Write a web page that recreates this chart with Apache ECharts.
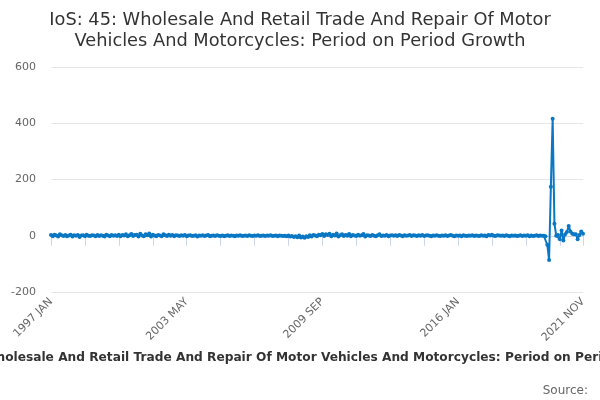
<!DOCTYPE html>
<html>
<head>
<meta charset="utf-8">
<script src="https://cdn.jsdelivr.net/npm/echarts@6/dist/echarts.min.js"></script>
<style>
html,body{margin:0;padding:0;background:#fff;}
#chart{width:600px;height:400px;}
</style>
</head>
<body>
<div id="chart"></div>
<script>
var FONT = '"DejaVu Sans", Verdana, sans-serif';
var titleText = "IoS: 45: Wholesale And Retail Trade And Repair Of Motor Vehicles And Motorcycles: Period on Period Growth";
var monthNames = ["JAN","FEB","MAR","APR","MAY","JUN","JUL","AUG","SEP","OCT","NOV","DEC"];
var startYear = 1997, endYear = 2021, endMonth = 11;
var yTicks = [-200, 0, 200, 400, 600];

var v1997 = [3,-2,4,1,-3,5,2,-1,3,-2,1,4];
var v1998 = [-3,2,0,3,-4,1,2,-2,4,0,-1,2];
var v1999 = [1,-2,3,-1,2,0,-3,4,1,-2,3,0];
var v2000 = [2,-1,4,-2,3,1,5,-2,2,6,-1,3];
var v2001 = [4,-3,7,1,-2,5,2,8,-3,4,1,-2];
var v2002 = [3,1,-2,5,2,-1,4,0,3,-2,2,1];
var v2003 = [-1,2,0,3,-2,1,2,-1,0,2,-3,1];
var v2004 = [0,2,-1,1,3,-2,0,1,-1,2,0,-1];
var v2005 = [1,-2,0,2,-1,1,0,-2,1,0,2,-1];
var v2006 = [0,1,-1,2,0,-1,1,0,2,-1,0,1];
var v2007 = [-1,1,0,2,-1,0,1,-2,1,0,-1,0];
var v2008 = [-2,1,-3,-1,-4,-2,-5,1,-6,-3,-7,-2];
var v2009 = [-4,2,-3,3,1,-2,4,2,6,-1,5,3];
var v2010 = [7,-2,4,1,8,-3,2,5,-1,3,0,6];
var v2011 = [-2,3,1,-1,4,0,2,6,-3,2,1,-1];
var v2012 = [3,0,-2,2,5,-1,1,0,3,-2,1,2];
var v2013 = [0,2,-1,3,1,-2,2,0,1,3,-1,2];
var v2014 = [1,-1,2,0,3,-1,1,2,0,-2,1,0];
var v2015 = [2,0,-1,1,0,2,-1,1,3,0,-2,1];
var v2016 = [0,1,-2,2,0,-1,1,0,2,-1,1,0];
var v2017 = [-1,2,0,1,-2,3,1,4,0,-1,2,1];
var v2018 = [0,1,-1,2,0,-2,1,0,1,-1,0,2];
var v2019 = [-1,1,0,2,-2,1,-1,0,2,-1,1,0];
var v2020 = [0,-2,-32,-86,174,416,43,0,3,-12,19,-17];
var v2021 = [5,13,35,15,7,5,5,-12,3,15,7];

var values = [].concat(v1997,v1998,v1999,v2000,v2001,v2002,v2003,v2004,v2005,v2006,
  v2007,v2008,v2009,v2010,v2011,v2012,v2013,v2014,v2015,v2016,v2017,v2018,v2019,v2020,v2021);

var categories = [];
for (var y = startYear; y <= endYear; y++) {
  for (var m = 0; m < 12; m++) {
    if (y === endYear && m >= endMonth) break;
    categories.push(y + " " + monthNames[m]);
  }
}
var lastIdx = categories.length - 1;

var chart = echarts.init(document.getElementById('chart'));
chart.setOption({
  animation: false,
  backgroundColor: '#fff',
  textStyle: {fontFamily: FONT},
  title: {
    text: "IoS: 45: Wholesale And Retail Trade And Repair Of Motor\nVehicles And Motorcycles: Period on Period Growth",
    left: 'center',
    top: 5,
    textStyle: {fontFamily: FONT, fontSize: 17.8, fontWeight: 'normal', color: '#333', lineHeight: 21}
  },
  graphic: [
    {type: 'text', x: 300, y: 352, style: {text: titleText, fontFamily: FONT, fontSize: 12.2, fontWeight: 'bold', fill: '#333', align: 'center'}},
    {type: 'text', x: 588, y: 385, style: {text: 'Source:', fontFamily: FONT, fontSize: 12, fill: '#666', align: 'right'}}
  ],
  grid: {left: 51, right: 17, top: 67, bottom: 108, containLabel: false},
  xAxis: {
    type: 'category',
    data: categories,
    boundaryGap: false,
    axisLine: {lineStyle: {color: '#ccd6eb'}},
    axisTick: {length: 10, lineStyle: {color: '#ccd6eb'}, interval: function(i){ return i % 19 === 0 || i === lastIdx; }},
    axisLabel: {rotate: 45, color: '#666', fontFamily: FONT, fontSize: 11, margin: 8,
      interval: function(i){ return i % 76 === 0 || i === lastIdx; }},
    splitLine: {show: false}
  },
  yAxis: {
    type: 'value',
    min: yTicks[0], max: yTicks[yTicks.length-1], interval: 200,
    axisLine: {show: false},
    axisTick: {show: false},
    axisLabel: {color: '#666', fontFamily: FONT, fontSize: 11, margin: 15},
    splitLine: {lineStyle: {color: '#e6e6e6'}}
  },
  series: [{
    type: 'line',
    data: values,
    symbol: 'circle',
    symbolSize: 4,
    showAllSymbol: true,
    lineStyle: {width: 2, color: '#0a77c4'},
    itemStyle: {color: '#0a77c4'}
  }]
});
</script>
</body>
</html>
